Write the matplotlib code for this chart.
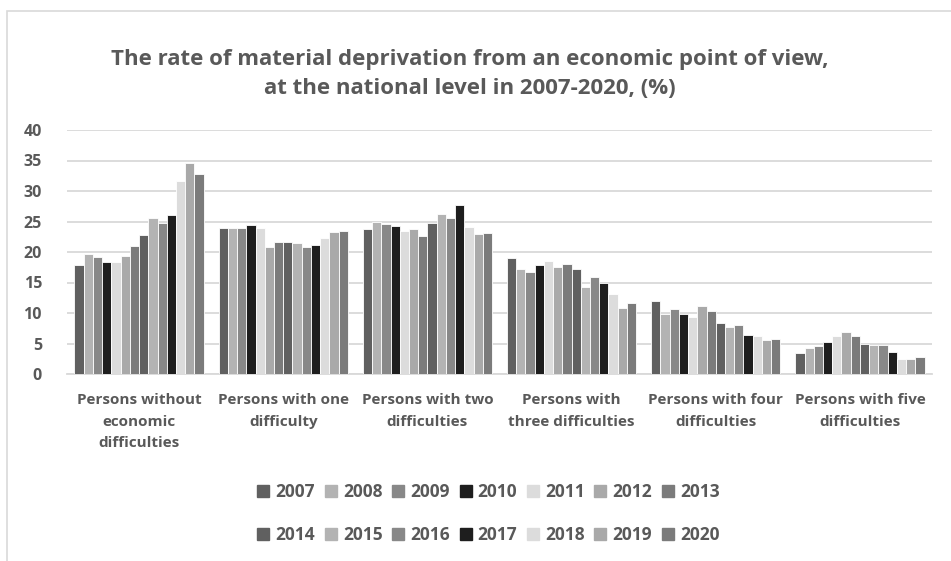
import matplotlib
matplotlib.use("Agg")
import matplotlib.pyplot as plt
from matplotlib.patches import Rectangle
from matplotlib.lines import Line2D
import numpy as np

categories = [
    "Persons without\neconomic\ndifficulties",
    "Persons with one\ndifficulty",
    "Persons with two\ndifficulties",
    "Persons with\nthree difficulties",
    "Persons with four\ndifficulties",
    "Persons with five\ndifficulties",
]

years = [str(y) for y in range(2007, 2021)]

# one list per category, values for 2007..2020 (%)
without_difficulties = [17.8, 19.7, 19.1, 18.3, 18.4, 19.4, 21.0, 22.8, 25.5, 24.8, 26.0, 31.6, 34.6, 32.8]
one_difficulty = [23.9, 23.9, 23.9, 24.4, 23.9, 20.9, 21.6, 21.7, 21.5, 20.8, 21.1, 22.3, 23.2, 23.4]
two_difficulties = [23.8, 24.9, 24.6, 24.2, 23.4, 23.8, 22.6, 24.8, 26.3, 25.5, 27.7, 24.1, 23.0, 23.1]
three_difficulties = [19.0, 17.2, 16.7, 17.8, 18.5, 17.5, 18.0, 17.2, 14.2, 15.9, 14.9, 13.1, 10.8, 11.7]
four_difficulties = [12.0, 9.9, 10.7, 9.9, 9.3, 11.1, 10.4, 8.3, 7.7, 8.0, 6.4, 6.2, 5.6, 5.8]
five_difficulties = [3.4, 4.2, 4.6, 5.2, 6.2, 6.9, 6.2, 5.0, 4.8, 4.8, 3.6, 2.4, 2.4, 2.8]

y_ticks = [0, 5, 10, 15, 20, 25, 30, 35, 40]

data = np.array([without_difficulties, one_difficulty, two_difficulties,
                 three_difficulties, four_difficulties, five_difficulties])

shades = ["#606060", "#b3b3b3", "#888888", "#1e1e1e", "#dcdcdc", "#a9a9a9", "#7b7b7b"]
colors = [shades[i % 7] for i in range(len(years))]

text_color = "#595959"
grid_color = "#d9d9d9"
font = ["Open Sans", "DejaVu Sans"]

fig = plt.figure(figsize=(9.51, 5.61), dpi=100)
ax = fig.add_axes([67 / 951, 1 - 374 / 561, (932 - 67) / 951, (374 - 130) / 561])

n = len(years)
pitch = 0.064
x = np.arange(len(categories))
for i, yr in enumerate(years):
    ax.bar(x + (i - (n - 1) / 2) * pitch, data[:, i], width=pitch,
           color=colors[i], edgecolor="white", linewidth=0.6, zorder=3, label=yr)

ax.set_xlim(-0.5, len(categories) - 0.5)
ax.set_ylim(0, 40)
ax.set_yticks(y_ticks)
ax.set_yticklabels([str(t) for t in y_ticks], fontsize=11.5, fontweight="bold",
                   color=text_color, family=font)
ax.set_xticks(x)
ax.set_xticklabels(categories, fontsize=11, fontweight="bold", color=text_color,
                   family=font, linespacing=1.65, va="top")
ax.tick_params(axis="both", length=0)
ax.tick_params(axis="x", pad=14)
ax.tick_params(axis="y", pad=18)
ax.grid(axis="y", color=grid_color, linewidth=1.3, zorder=0)
for s in ["top", "right", "left"]:
    ax.spines[s].set_visible(False)
ax.spines["bottom"].set_color(grid_color)
ax.spines["bottom"].set_linewidth(1.3)

fig.text(0.494, 1 - 73.5 / 561,
         "The rate of material deprivation from an economic point of view,\n"
         "at the national level in 2007-2020, (%)",
         ha="center", va="center", fontsize=16, fontweight="bold",
         color=text_color, family=font, linespacing=1.5)

# legend fills column by column, so interleave the two rows
ncol = 7
order = [r * ncol + c for c in range(ncol) for r in range(2)]
handles = [Line2D([0], [0], marker="s", linestyle="none", markersize=8,
                  markerfacecolor=colors[k], markeredgecolor=colors[k]) for k in order]
labels = [years[k] for k in order]
leg = fig.legend(handles, labels, loc="center", ncol=ncol,
                 bbox_to_anchor=(488 / 951, 1 - 513.5 / 561),
                 frameon=False, handlelength=0.8, handletextpad=0.3,
                 columnspacing=0.5, labelspacing=1.4,
                 prop={"family": font, "weight": "bold", "size": 12.5})
for t in leg.get_texts():
    t.set_color(text_color)

fig.add_artist(Rectangle((7 / 951, -0.1), 1.2, 1.1 - 11 / 561,
                         transform=fig.transFigure, fill=False,
                         edgecolor=grid_color, linewidth=1.2))

fig.savefig("out.png", dpi=100, facecolor="white")
